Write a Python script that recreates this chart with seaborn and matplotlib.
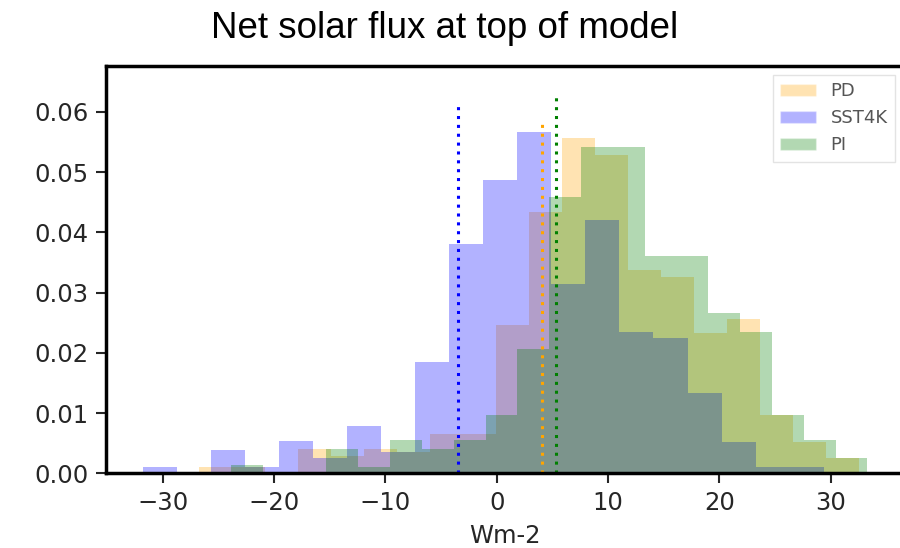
import matplotlib
matplotlib.use("Agg")
import matplotlib.pyplot as plt
from matplotlib.patches import Patch
from matplotlib.ticker import FormatStrFormatter
import seaborn as sns

# ------------------- data (density per bin)

labels = ["PD", "SST4K", "PI"]
colors = ["orange", "blue", "green"]

pd_start, pd_width = -26.73, 2.965
pd_density = [0.0011, 0.0011, 0.0, 0.0040, 0.0028, 0.0040, 0.0036, 0.0066, 0.0066, 0.0246,
              0.0434, 0.0556, 0.0528, 0.0337, 0.0326, 0.0233, 0.0256, 0.0097, 0.0052, 0.0025]

sst4k_start, sst4k_width = -31.81, 3.060
sst4k_density = [0.0011, 0.0, 0.0039, 0.0011, 0.0054, 0.0025, 0.0078, 0.0036, 0.0185, 0.0380,
                 0.0487, 0.0567, 0.0315, 0.0420, 0.0235, 0.0224, 0.0133, 0.0052, 0.0010, 0.0010]

pi_start, pi_width = -23.88, 2.860
pi_density = [0.0013, 0.0, 0.0, 0.0040, 0.0011, 0.0055, 0.0041, 0.0055, 0.0097, 0.0207,
              0.0459, 0.0542, 0.0542, 0.0361, 0.0361, 0.0266, 0.0235, 0.0097, 0.0055, 0.0025]

# means, drawn as dotted lines
mean_values = [4.03, -3.46, 5.32]
mean_line_tops = [0.0586, 0.0613, 0.0633]

x_ticks = [-30, -20, -10, 0, 10, 20, 30]
y_ticks = [0.0, 0.01, 0.02, 0.03, 0.04, 0.05, 0.06]

# ------------------- plot

sns.set_style("ticks")
plt.rcParams["font.family"] = ["DejaVu Sans"]

fig = plt.figure(figsize=(9, 5.48), dpi=100)
ax = fig.add_axes([106 / 900, 74.7 / 548, 798 / 900, 407.3 / 548])

series = [
    (pd_start, pd_width, pd_density),
    (sst4k_start, sst4k_width, sst4k_density),
    (pi_start, pi_width, pi_density),
]
for (start, width, dens), color in zip(series, colors):
    edges = [start + width * i for i in range(len(dens) + 1)]
    centers = [(a + b) / 2 for a, b in zip(edges[:-1], edges[1:])]
    sns.histplot(x=centers, weights=dens, bins=edges, stat="count",
                 color=color, alpha=0.3, linewidth=0, ax=ax)

for mean, top, color in zip(mean_values, mean_line_tops, colors):
    ax.vlines(mean, 0, top, colors=color, linestyles=(0, (1, 1.9)), linewidth=2.2)

ax.set_xlim(-35.1, 36.6)
ax.set_ylim(0, 0.0676)
ax.set_xticks(x_ticks)
ax.set_yticks(y_ticks)
ax.yaxis.set_major_formatter(FormatStrFormatter("%.2f"))
ax.set_ylabel("")
ax.set_xlabel("Wm-2", fontsize=17.5, color="#262626", labelpad=7)

for s in ax.spines.values():
    s.set_linewidth(2.5)
    s.set_color("black")
ax.tick_params(length=7.5, width=1.5, color="#262626", labelsize=17.5,
               labelcolor="#262626", pad=5)

handles = [Patch(facecolor=c, alpha=0.3, label=l) for c, l in zip(colors, labels)]
ax.legend(handles=handles, loc="upper right", fontsize=13, frameon=True,
          fancybox=False, edgecolor="#dddddd", labelcolor="#555555")

fig.text(445 / 900, 1 - 29 / 548, "Net solar flux at top of model",
         ha="center", va="center", fontsize=26.5, color="black",
         family="Liberation Sans")

fig.savefig("out.png", dpi=100)
